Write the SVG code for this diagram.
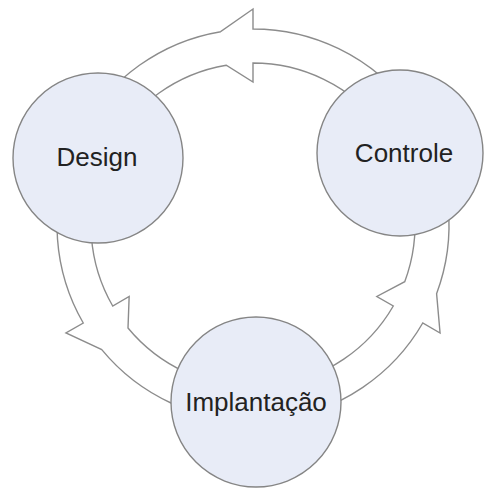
<svg xmlns="http://www.w3.org/2000/svg" width="484" height="491" viewBox="0 0 484 491">
  <style>
    .ring { fill: #ffffff; stroke: #8c8c8c; stroke-width: 1.4; stroke-linejoin: miter; fill-rule: evenodd; }
    .node circle { fill: #e8ecf7; stroke: #858585; stroke-width: 1.4; }
    .node text { font-family: "Liberation Sans", Arial, sans-serif; font-size: 26px; fill: #222222; text-anchor: middle; }
  </style>
  <rect width="484" height="491" fill="#ffffff"/>

  <!-- circular band with three arrowheads (cycle: Design → Implantação → Controle → Design), centre (253,225) -->
  <g id="connectors">
    <path class="ring" d="
      M 253 29
      A 196 196 0 0 1 436.59 293.64
      L 440.06 333 L 422.74 323
      A 196 196 0 0 1 101.76 349.67
      L 65.94 333 L 83.26 323
      A 196 196 0 0 1 220.65 31.69
      L 253 9 L 253 29 Z
      M 253 63
      A 162 162 0 0 1 404.74 281.73
      L 376.84 296.5 L 393.29 306
      A 162 162 0 0 1 128.0 328.04
      L 129.16 296.5 L 112.71 306
      A 162 162 0 0 1 226.26 65.22
      L 253 82 L 253 63 Z"/>
  </g>

  <g id="design" class="node">
    <circle cx="98" cy="158" r="85"/>
    <text x="97" y="166">Design</text>
  </g>

  <g id="controle" class="node">
    <circle cx="400" cy="153" r="83"/>
    <text x="404" y="162">Controle</text>
  </g>

  <g id="implantacao" class="node">
    <circle cx="256" cy="402" r="85"/>
    <text x="256" y="411">Implantação</text>
  </g>
</svg>
